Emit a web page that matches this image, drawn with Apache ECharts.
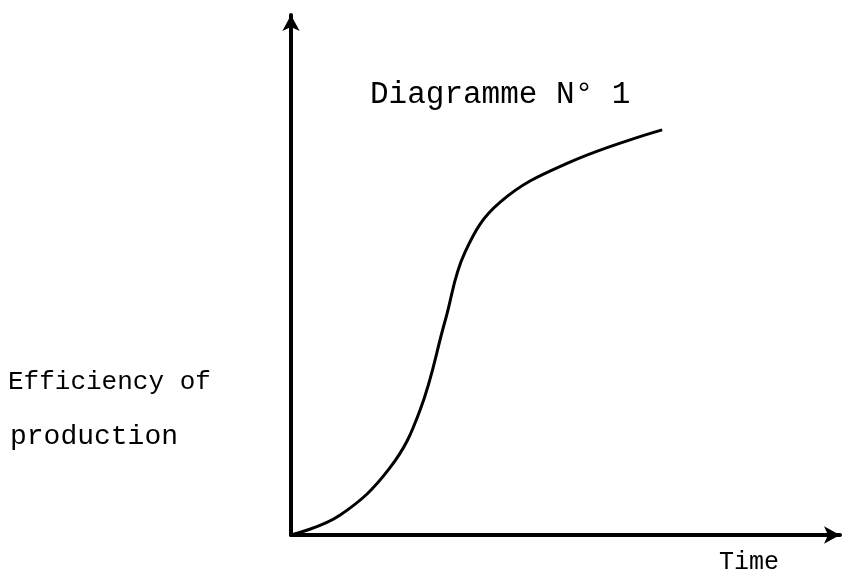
<!DOCTYPE html>
<html>
<head>
<meta charset="utf-8">
<script src="https://cdn.jsdelivr.net/npm/echarts@6/dist/echarts.min.js"></script>
<style>
  html, body { margin: 0; padding: 0; background: #fff; }
  #chart { width: 844px; height: 575px; }
</style>
</head>
<body>
<div id="chart"></div>
<script>
// time (0-100) vs efficiency (0-100)
var timeVals = [0, 8.9, 18.0, 23.5, 28.1, 31.7, 38.1, 50.8, 67.6];
var efficiencyVals = [0, 3.8, 12.9, 24.0, 41.3, 54.4, 64.0, 71.7, 77.9];

var titleText = 'Diagramme N° 1';
var yLabel = ['Efficiency of', 'production'];
var xLabel = 'Time';

var points = timeVals.map(function (t, i) { return [t, efficiencyVals[i]]; });
var font = '"Liberation Mono", "DejaVu Sans Mono", monospace';

var myChart = echarts.init(document.getElementById('chart'));
myChart.setOption({
  animation: false,
  grid: { left: 291, right: 4, top: 15, bottom: 40 },
  xAxis: {
    type: 'value', min: 0, max: 100,
    axisLine: { lineStyle: { color: '#000', width: 4 }, symbol: ['none', 'arrow'], symbolSize: [13, 16] },
    axisTick: { show: false }, axisLabel: { show: false }, splitLine: { show: false }
  },
  yAxis: {
    type: 'value', min: 0, max: 100,
    axisLine: { lineStyle: { color: '#000', width: 4 }, symbol: ['none', 'arrow'], symbolSize: [13, 16] },
    axisTick: { show: false }, axisLabel: { show: false }, splitLine: { show: false }
  },
  series: [{
    type: 'line',
    data: points,
    smooth: 0.4,
    showSymbol: false,
    lineStyle: { color: '#000', width: 3 }
  }],
  graphic: [
    { type: 'text', left: 370, top: 79, style: { text: titleText, font: '31px ' + font, fill: '#000' } },
    { type: 'text', left: 8, top: 369, style: { text: yLabel[0], font: '26px ' + font, fill: '#000' } },
    { type: 'text', left: 10, top: 423, style: { text: yLabel[1], font: '28px ' + font, fill: '#000' } },
    { type: 'text', left: 719, top: 550, style: { text: xLabel, font: '25px ' + font, fill: '#000' } }
  ]
});
</script>
</body>
</html>
